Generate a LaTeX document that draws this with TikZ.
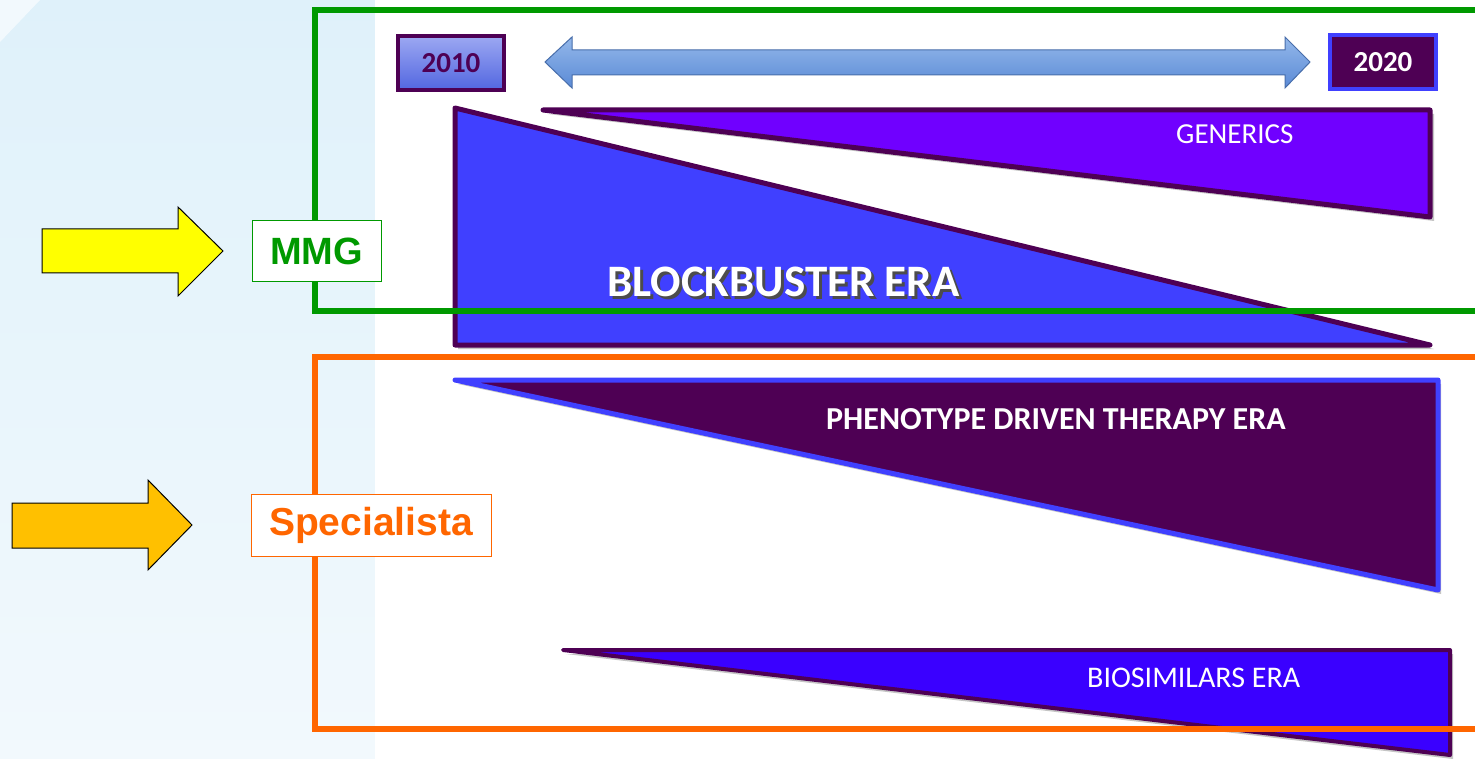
\documentclass[tikz,border=0pt]{standalone}
\usepackage{fontspec}
\setmainfont{Carlito}
\newfontfamily\labelfont{Liberation Sans}
\usetikzlibrary{shadings}
\definecolor{bgblue}{HTML}{DFF1FA}
\definecolor{bglight}{HTML}{F2F9FD}
\definecolor{mmggreen}{HTML}{009900}
\definecolor{specorange}{HTML}{FF6600}
\definecolor{arrowyellow}{HTML}{FFFF00}
\definecolor{arrowamber}{HTML}{FFC000}
\definecolor{plum}{HTML}{4E0054}
\definecolor{royal}{HTML}{4040FF}
\definecolor{violet}{HTML}{7000FF}
\definecolor{biosim}{HTML}{3A00FF}
\definecolor{steel}{HTML}{5A8AD6}
\definecolor{steellight}{HTML}{94B8EA}
\definecolor{yearlight}{HTML}{9CA8F2}
\definecolor{yeardark}{HTML}{5266E0}
\newcommand{\shadowtext}[1]{\makebox[0pt][l]{\hspace{3pt}\raisebox{-3pt}{\textcolor{black!70}{#1}}}#1}
\tikzset{
  wedge/.style={line width=5pt, line join=round},
  wedgeshadow/.style={fill=black!45, opacity=0.5},
  eratext/.style={text=white, font=\bfseries, inner sep=0pt, anchor=base west},
  rolebox/.style={draw, fill=white, line width=1pt, inner sep=0pt, font=\labelfont\bfseries},
  pointer/.style={draw=black, line width=1pt, line join=miter},
  frame/.style={line width=6pt},
  yearbox/.style={line width=4pt, inner sep=0pt, minimum width=106pt, minimum height=54pt, font=\bfseries\fontsize{29}{29}\selectfont}
}
\begin{document}
\begin{tikzpicture}[x=1pt, y=-1pt]
\useasboundingbox (0,0) rectangle (1475,759);
\clip (0,0) rectangle (1475,759);

% background: pale blue side panel and white slide area
\shade[top color=bgblue, bottom color=bglight] (0,0) rectangle (375,759);
\fill[white, opacity=0.6] (0,0) -- (40,0) -- (0,42) -- cycle;
\fill[white] (375,0) rectangle (1475,759);

% timeline
\shade[top color=steellight, bottom color=steel, draw=steel!80!black, line width=1pt]
  (545,62) -- (572,37) -- (572,50) -- (1285,50) -- (1285,37) -- (1310,62)
  -- (1285,88) -- (1285,75) -- (572,75) -- (572,88) -- cycle;
\node[yearbox, draw=plum, top color=yearlight, bottom color=yeardark, text=plum] (y2010) at (451,63) {2010};
\node[yearbox, draw=royal, fill=plum, text=white] (y2020) at (1383,62) {2020};

% eras
\fill[wedgeshadow] (548,114) -- (1434,114) -- (1434,221) -- cycle;
\draw[wedge, draw=plum, fill=violet] (543,110) -- (1430,110) -- (1430,217) -- cycle;
\node[eratext, font=\fontsize{29}{29}\selectfont] (gen) at (1176,144) {GENERICS};

\fill[wedgeshadow] (458,112) -- (1434,349) -- (458,349) -- cycle;
\draw[wedge, draw=plum, fill=royal] (455,108) -- (1430,345) -- (455,345) -- cycle;
\node[eratext, font=\bfseries\fontsize{45}{45}\selectfont] (blk) at (607,297) {\shadowtext{BLOCKBUSTER ERA}};

\fill[wedgeshadow] (458,384) -- (1441,384) -- (1441,594) -- cycle;
\draw[wedge, draw=royal, fill=plum] (455,380) -- (1438,380) -- (1438,590) -- cycle;
\node[eratext, font=\bfseries\fontsize{32}{32}\selectfont] (phe) at (826,429) {PHENOTYPE DRIVEN THERAPY ERA};

\fill[wedgeshadow] (566,654) -- (1453,654) -- (1453,759) -- cycle;
\draw[wedge, line width=4pt, draw=plum, fill=biosim] (563,650) -- (1450,650) -- (1450,755) -- cycle;
\node[eratext, font=\fontsize{30}{30}\selectfont] (bio) at (1087,687) {BIOSIMILARS ERA};

% audience frames
\draw[frame, draw=mmggreen] (1490,10) -- (315,10) -- (315,311) -- (1490,311);
\draw[frame, draw=specorange] (1490,357) -- (315,357) -- (315,729) -- (1490,729);

\node[rolebox, draw=mmggreen, text=mmggreen, minimum width=129pt, minimum height=61pt,
  font=\labelfont\bfseries\fontsize{38}{38}\selectfont] (mmg) at (316.5,251.5) {MMG};
\node[rolebox, draw=specorange, text=specorange, minimum width=240pt, minimum height=62pt,
  font=\labelfont\bfseries\fontsize{39}{39}\selectfont] (spec) at (371,525) {Specialista};

% arrows pointing at the audiences
\draw[pointer, fill=arrowyellow] (42,229) -- (178,229) -- (178,207) -- (223,251)
  -- (178,296) -- (178,273) -- (42,273) -- cycle;
\draw[pointer, fill=arrowamber] (12,503) -- (148,503) -- (148,480) -- (192,525)
  -- (148,570) -- (148,548) -- (12,548) -- cycle;
\end{tikzpicture}
\end{document}
